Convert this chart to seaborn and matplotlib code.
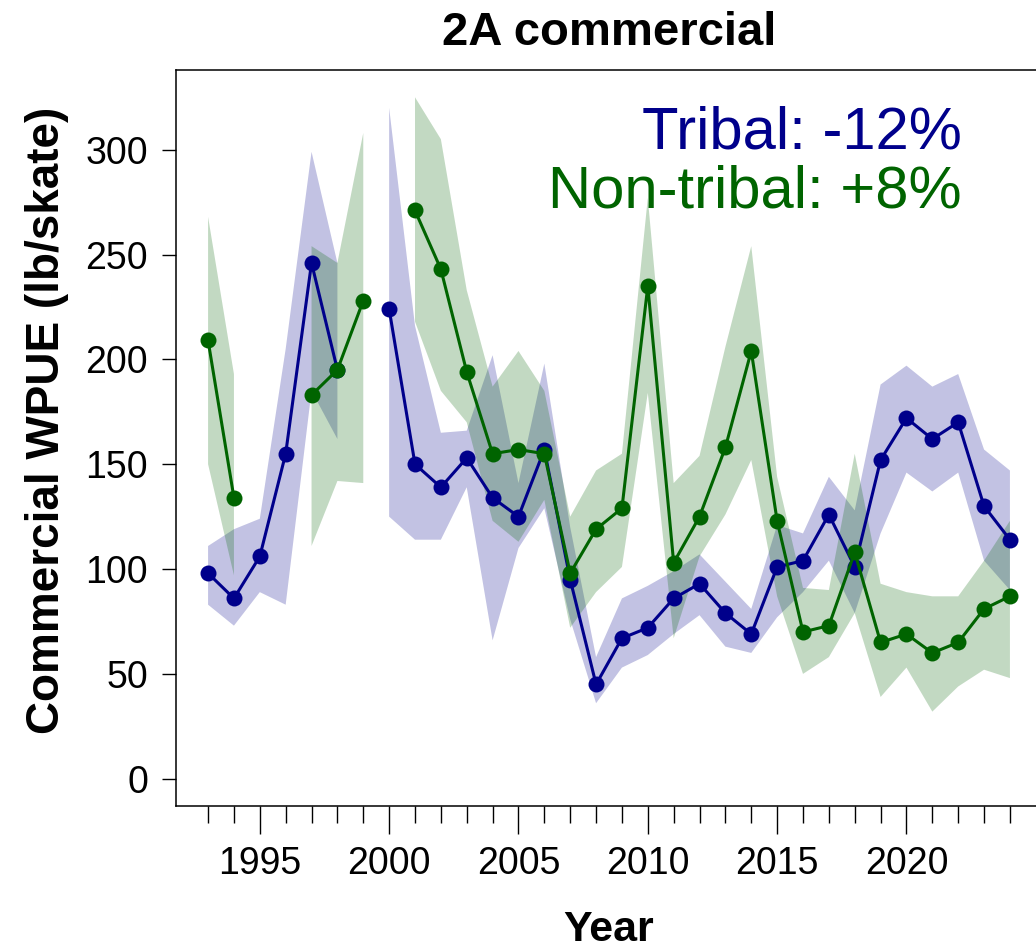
import numpy as np
import pandas as pd
import matplotlib
matplotlib.use("Agg")
import matplotlib.pyplot as plt
from matplotlib.ticker import FixedLocator
import seaborn as sns

nan = np.nan
years = list(range(1993, 2025))

tribal = [98, 86, 106, 155, 246, 195, nan, 224, 150, 139, 153, 134, 125, 157, 95, 45,
          67, 72, 86, 93, 79, 69, 101, 104, 126, 101, 152, 172, 162, 170, 130, 114]
tribal_lo = [83, 73, 89, 83, 185, 162, nan, 125, 114, 114, 139, 66, 110, 129, 76, 36,
             53, 59, 69, 78, 63, 60, 77, 89, 104, 79, 117, 146, 137, 146, 104, 90]
tribal_hi = [111, 119, 124, 205, 299, 246, nan, 320, 216, 165, 166, 202, 141, 198, 120, 58,
             86, 92, 99, 107, 94, 81, 121, 117, 144, 128, 188, 197, 187, 193, 157, 147]

nontribal = [209, 134, nan, nan, 183, 195, 228, nan, 271, 243, 194, 155, 157, 155, 98, 119,
             129, 235, 103, 125, 158, 204, 123, 70, 73, 108, 65, 69, 60, 65, 81, 87]
nontribal_lo = [150, 97, nan, nan, 111, 142, 141, nan, 218, 185, 170, 123, 113, 133, 72, 89,
                101, 184, 67, 106, 126, 152, 87, 50, 58, 79, 39, 53, 32, 44, 52, 48]
nontribal_hi = [268, 193, nan, nan, 254, 246, 308, nan, 325, 305, 233, 187, 204, 185, 125, 147,
                155, 277, 141, 154, 206, 254, 144, 91, 90, 155, 93, 89, 87, 87, 104, 123]

groups = ["Tribal", "Non-tribal"]
labels = ["Tribal: -12%", "Non-tribal: +8%"]
title = "2A commercial"
xlabel = "Year"
ylabel = "Commercial WPUE (lb/skate)"
xticks_major = [1995, 2000, 2005, 2010, 2015, 2020]
yticks = [0, 50, 100, 150, 200, 250, 300]

colors = {"Tribal": "#00008B", "Non-tribal": "#006400"}

# long table with contiguous segment ids (gaps break the line)
rows = []
for g, vals in zip(groups, [tribal, nontribal]):
    seg = 0
    prev_nan = True
    for y, v in zip(years, vals):
        if np.isnan(v):
            prev_nan = True
            continue
        if prev_nan:
            seg += 1
            prev_nan = False
        rows.append({"year": y, "wpue": v, "group": g, "seg": f"{g}_{seg}"})
df = pd.DataFrame(rows)

sns.set_style("white")
plt.rcParams["font.family"] = ["Liberation Sans", "DejaVu Sans"]
plt.rcParams["text.color"] = "black"
plt.rcParams["axes.labelcolor"] = "black"
plt.rcParams["xtick.color"] = "black"
plt.rcParams["ytick.color"] = "black"

fig = plt.figure(figsize=(10.36, 9.52), dpi=100)
ax = fig.add_axes([176 / 1036, (952 - 806) / 952, 866 / 1036, 736 / 952])

yrs = np.array(years, dtype=float)
ax.fill_between(yrs, np.array(tribal_lo, float), np.array(tribal_hi, float),
                color=colors["Tribal"], alpha=0.24, linewidth=0, zorder=1)
ax.fill_between(yrs, np.array(nontribal_lo, float), np.array(nontribal_hi, float),
                color=colors["Non-tribal"], alpha=0.24, linewidth=0, zorder=1)

sns.lineplot(data=df, x="year", y="wpue", hue="group", units="seg", estimator=None,
             palette=colors, hue_order=groups, marker="o", markersize=11.5,
             markeredgewidth=0, linewidth=2.2, legend=False, ax=ax, zorder=3)

ax.set_xlim(1991.76, 2025.24)
ax.set_ylim(-13, 338)

ax.xaxis.set_major_locator(FixedLocator(xticks_major))
ax.xaxis.set_minor_locator(FixedLocator([y for y in years if y not in xticks_major]))
ax.set_yticks(yticks)

ax.tick_params(axis="y", which="major", direction="out", length=10, width=1.0,
               pad=10, labelsize=27, colors="black", left=True)
ax.tick_params(axis="x", which="major", direction="out", length=20, width=1.0,
               pad=9, labelsize=27, colors="black", bottom=True)
ax.tick_params(axis="x", which="minor", direction="out", length=12, width=1.0,
               color="black", bottom=True)

for s in ax.spines.values():
    s.set_visible(True)
    s.set_color("black")
    s.set_linewidth(1.1)

ax.set_xlabel(xlabel, fontsize=31, fontweight="bold", labelpad=20, color="black")
ax.set_ylabel(ylabel, fontsize=33, fontweight="bold", color="black")
ax.yaxis.set_label_coords(-0.124, 0.524)
ax.set_title(title, fontsize=34, fontweight="bold", pad=18, color="black")

ax.text(0.9076, 0.894, labels[0], transform=ax.transAxes, ha="right", va="baseline",
        fontsize=43, color=colors["Tribal"])
ax.text(0.9076, 0.8125, labels[1], transform=ax.transAxes, ha="right", va="baseline",
        fontsize=43, color=colors["Non-tribal"])

fig.savefig("out.png", dpi=100)
